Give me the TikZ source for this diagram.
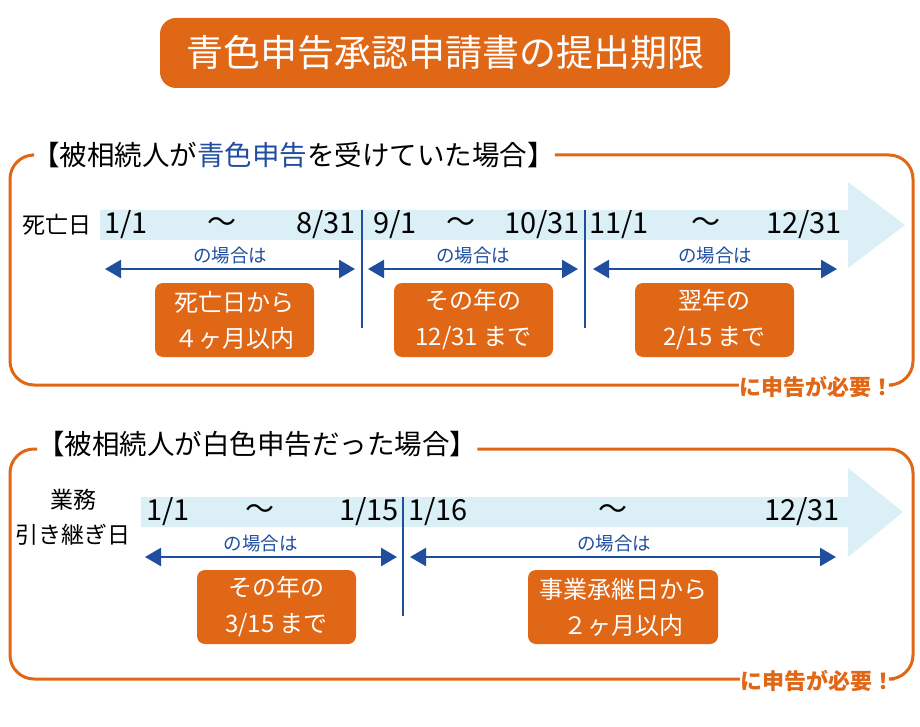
\documentclass[tikz,border=0pt]{standalone}
\usepackage{fontspec}
\setmainfont{Noto Sans CJK JP}
\usetikzlibrary{arrows.meta,positioning}
\definecolor{tangerine}{HTML}{E06716}
\definecolor{navy}{HTML}{1F4E9E}
\definecolor{sky}{HTML}{DBEFF6}

\begin{document}
\begin{tikzpicture}[
	x=1pt, y=-1pt,
	ttl/.style={fill=tangerine, rounded corners=16pt, text=white, minimum width=570pt, minimum height=70pt, font=\fontsize{37}{40}\selectfont},
	head/.style={anchor=west, inner sep=0pt, font=\fontsize{27.5}{30}\selectfont},
	band/.style={fill=sky},
	who/.style={inner sep=0pt, font=\fontsize{23}{26}\selectfont},
	datetxt/.style={inner sep=0pt, font=\fontsize{29}{30}\selectfont},
	lbl/.style={text=navy, inner sep=0pt, font=\fontsize{18.5}{20}\selectfont},
	span/.style={draw=navy, line width=2.5pt, {Triangle[length=16pt,width=18pt]}-{Triangle[length=16pt,width=18pt]}},
	cut/.style={draw=navy, line width=2pt},
	res/.style={fill=tangerine, rounded corners=8pt, text=white, align=center, minimum height=74pt, font=\fontsize{24}{36}\selectfont},
	rimline/.style={draw=tangerine, line width=3pt, rounded corners=24pt},
	need/.style={text=tangerine, inner sep=0pt, font=\bfseries\fontsize{22}{24}\selectfont}
	]
	\useasboundingbox (0,0) rectangle (920,727);
	\node[ttl] (title) at (445,53) {青色申告承認申請書の提出期限};

	% blue filing
	\node[head] (head1) at (32,155) {【被相続人が\textcolor{navy}{青色申告}を受けていた場合】};
	\node[need] (need1) at (816,387) {に申告が必要！};
	\draw[rimline] (head1.east) -- (913,155) -- (913,385) -- (need1.east |- 0,385);
	\draw[rimline] (need1.west |- 0,385) -- (10,385) -- (10,155) -- (head1.west);
	\fill[band] (100,210) -- (848,210) -- (848,182) -- (905,225) -- (848,268) -- (848,240) -- (100,240) -- cycle;
	\node[who, anchor=east] (who1) at (92,225) {死亡日};
	\node[datetxt, anchor=west] (d11) at (104,225) {1/1};
	\node[datetxt] (t11) at (222,225) {〜};
	\node[datetxt, anchor=east] (d12) at (356,225) {8/31};
	\node[datetxt, anchor=west] (d13) at (373,225) {9/1};
	\node[datetxt] (t12) at (461,225) {〜};
	\node[datetxt, anchor=east] (d14) at (580,225) {10/31};
	\node[datetxt, anchor=west] (d15) at (589,225) {11/1};
	\node[datetxt] (t13) at (706,225) {〜};
	\node[datetxt, anchor=east] (d16) at (842,225) {12/31};
	\draw[cut] (362,210) -- (362,328);
	\draw[cut] (585,210) -- (585,328);
	\coordinate (s11) at (105,269); \coordinate (s12) at (355,269);
	\coordinate (s13) at (368,269); \coordinate (s14) at (578,269);
	\coordinate (s15) at (593,269); \coordinate (s16) at (837,269);
	\draw[span] (s11) -- node[lbl, above=4pt] {の場合は} (s12);
	\draw[span] (s13) -- node[lbl, above=4pt] {の場合は} (s14);
	\draw[span] (s15) -- node[lbl, above=4pt] {の場合は} (s16);
	\node[res, minimum width=159pt] (r11) at (234.5,320) {死亡日から\\４ヶ月以内};
	\node[res, minimum width=159pt] (r12) at (473.5,320) {その年の\\12/31 まで};
	\node[res, minimum width=159pt] (r13) at (714.5,320) {翌年の\\2/15 まで};

	% white filing
	\node[head] (head2) at (37,444) {【被相続人が白色申告だった場合】};
	\node[need] (need2) at (817,681) {に申告が必要！};
	\draw[rimline] (head2.east |- 0,449) -- (913,449) -- (913,679) -- (need2.east |- 0,679);
	\draw[rimline] (need2.west |- 0,679) -- (10,679) -- (10,449) -- (head2.west |- 0,449);
	\fill[band] (141,497) -- (848,497) -- (848,468) -- (903,512) -- (848,557) -- (848,527) -- (141,527) -- cycle;
	\node[who] (who2) at (73,500) {業務};
	\node[who] (who3) at (73,535) {引き継ぎ日};
	\node[datetxt, anchor=west] (d21) at (146,512) {1/1};
	\node[datetxt] (t21) at (260,512) {〜};
	\node[datetxt, anchor=east] (d22) at (399,512) {1/15};
	\node[datetxt, anchor=west] (d23) at (408,512) {1/16};
	\node[datetxt] (t22) at (613,512) {〜};
	\node[datetxt, anchor=east] (d24) at (840,512) {12/31};
	\draw[cut] (403,497) -- (403,616);
	\coordinate (s21) at (145,557); \coordinate (s22) at (397,557);
	\coordinate (s23) at (410,557); \coordinate (s24) at (836,557);
	\draw[span] (s21) -- node[lbl, above=4pt, pos=.46] {の場合は} (s22);
	\draw[span] (s23) -- node[lbl, above=4pt, pos=.48] {の場合は} (s24);
	\node[res, minimum width=159pt] (r21) at (276.5,607) {その年の\\3/15 まで};
	\node[res, minimum width=190pt] (r22) at (623,607) {事業承継日から\\２ヶ月以内};
\end{tikzpicture}
\end{document}
